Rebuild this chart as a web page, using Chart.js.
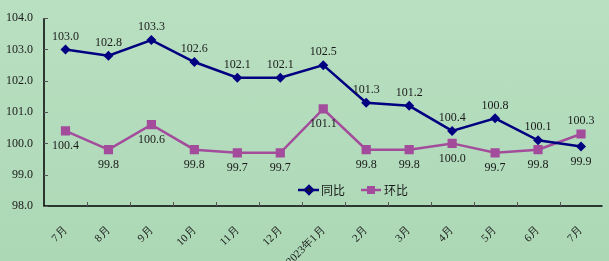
<!DOCTYPE html>
<html>
<head>
<meta charset="utf-8">
<script src="https://cdn.jsdelivr.net/npm/chart.js@4/dist/chart.umd.min.js"></script>
<style>
  html, body { margin: 0; padding: 0; }
  body { width: 609px; height: 261px; background: linear-gradient(#b9e0c1, #acd8b6); }
  #wrap { position: relative; width: 609px; height: 261px; }
</style>
</head>
<body>
<div id="wrap"><canvas id="priceChart"></canvas></div>
<script>
const categories = ['7月', '8月', '9月', '10月', '11月', '12月', '2023年1月', '2月', '3月', '4月', '5月', '6月', '7月'];
const yoyValues = [103.0, 102.8, 103.3, 102.6, 102.1, 102.1, 102.5, 101.3, 101.2, 100.4, 100.8, 100.1, 99.9];
const momValues = [100.4, 99.8, 100.6, 99.8, 99.7, 99.7, 101.1, 99.8, 99.8, 100.0, 99.7, 99.8, 100.3];
// label above (-1) or below (+1) each point
const yoyLabelSide = [-1, -1, -1, -1, -1, -1, -1, -1, -1, -1, -1, -1, 1];
const momLabelSide = [1, 1, 1, 1, 1, 1, 1, 1, 1, 1, 1, 1, -1];
const yTicks = [98, 99, 100, 101, 102, 103, 104];

const navy = '#000080';
const purple = '#a44c9c';
const serif = '"Liberation Serif", "Times New Roman", serif';

const decorPlugin = {
    id: 'decor',
    afterDatasetsDraw(chart) {
        const ctx = chart.ctx;
        const area = chart.chartArea;
        const x = chart.scales.x;
        const y = chart.scales.y;
        ctx.save();

        // axis lines
        ctx.strokeStyle = '#000';
        ctx.lineWidth = 1.5;
        ctx.beginPath();
        ctx.moveTo(area.left, area.top);
        ctx.lineTo(area.left, area.bottom);
        ctx.lineTo(area.right, area.bottom);
        ctx.stroke();

        // inner ticks
        ctx.strokeStyle = '#555';
        ctx.lineWidth = 1;
        ctx.beginPath();
        yTicks.forEach(v => {
            const py = Math.round(y.getPixelForValue(v)) + 0.5;
            ctx.moveTo(area.left, py);
            ctx.lineTo(area.left + 4, py);
        });
        const step = x.getPixelForValue(1) - x.getPixelForValue(0);
        for (let i = 1; i < categories.length; i++) {
            const px = Math.round(x.getPixelForValue(i) - step / 2) + 0.5;
            ctx.moveTo(px, area.bottom);
            ctx.lineTo(px, area.bottom - 4);
        }
        ctx.stroke();

        // value labels
        ctx.fillStyle = '#1a1a1a';
        ctx.font = '12px ' + serif;
        ctx.textAlign = 'center';
        ctx.textBaseline = 'middle';
        [[0, yoyLabelSide], [1, momLabelSide]].forEach(([di, sides]) => {
            const meta = chart.getDatasetMeta(di);
            const vals = chart.data.datasets[di].data;
            meta.data.forEach((pt, i) => {
                const dy = sides[i] < 0 ? -13 : 15;
                ctx.fillText(vals[i].toFixed(1), pt.x, pt.y + dy);
            });
        });

        // legend
        const ly = 190;
        ctx.lineWidth = 2.5;
        ctx.strokeStyle = navy;
        ctx.beginPath();
        ctx.moveTo(298, ly);
        ctx.lineTo(319, ly);
        ctx.stroke();
        Chart.helpers.drawPoint(ctx, { pointStyle: 'rectRot', radius: 4, borderWidth: 1 }, 309, ly);
        ctx.fillStyle = navy;
        ctx.strokeStyle = purple;
        ctx.beginPath();
        ctx.moveTo(361, ly);
        ctx.lineTo(381, ly);
        ctx.stroke();
        ctx.fillStyle = purple;
        ctx.fillRect(367, ly - 4, 8, 8);
        ctx.fillStyle = '#1a1a1a';
        ctx.font = '12px "Noto Sans CJK SC", sans-serif';
        ctx.textAlign = 'left';
        ctx.fillText('同比', 321, ly);
        ctx.fillText('环比', 384, ly);
        ctx.restore();
    }
};

const data = {
    labels: categories,
    datasets: [
        {
            label: '同比',
            data: yoyValues,
            borderColor: navy,
            backgroundColor: navy,
            borderWidth: 2.5,
            pointStyle: 'rectRot',
            pointRadius: 5,
            pointBorderWidth: 0,
            tension: 0,
            fill: false,
        },
        {
            label: '环比',
            data: momValues,
            borderColor: purple,
            backgroundColor: purple,
            borderWidth: 2.5,
            pointStyle: 'rect',
            pointRadius: 6.5,
            pointBorderWidth: 0,
            tension: 0,
            fill: false,
        }
    ]
};

const options = {
    responsive: true,
    maintainAspectRatio: false,
    animation: false,
    layout: { padding: { top: 16, right: 0, left: 0, bottom: 0 } },
    plugins: {
        legend: { display: false },
        tooltip: { enabled: false }
    },
    scales: {
        x: {
            offset: true,
            grid: { display: false, drawTicks: false },
            border: { display: false },
            ticks: {
                autoSkip: false,
                minRotation: 45,
                maxRotation: 45,
                padding: 18,
                color: '#1a1a1a',
                font: { family: serif, size: 11 }
            },
            afterFit(scale) { scale.height = 55; }
        },
        y: {
            min: 98,
            max: 104,
            grid: { display: false, drawTicks: false },
            border: { display: false },
            ticks: {
                stepSize: 1,
                padding: 11,
                color: '#1a1a1a',
                font: { family: serif, size: 12 },
                callback: function (value) {
                    return value.toFixed(1);
                }
            },
            afterFit(scale) { scale.width = 44; }
        }
    }
};

new Chart(document.getElementById('priceChart').getContext('2d'), {
    type: 'line',
    data: data,
    options: options,
    plugins: [decorPlugin]
});
</script>
</body>
</html>
